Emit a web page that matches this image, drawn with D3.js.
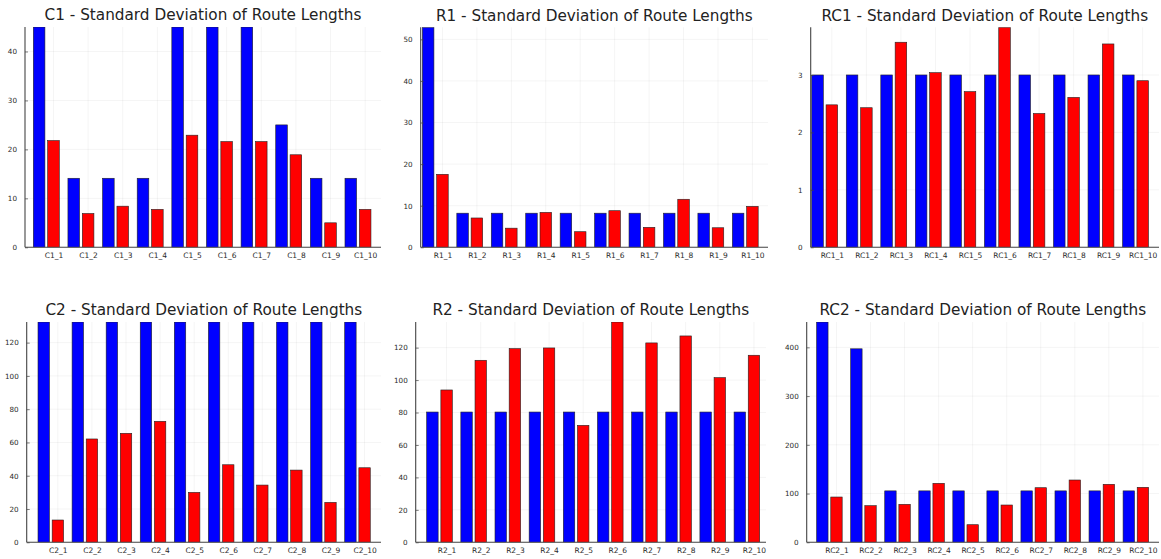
<!DOCTYPE html>
<html>
<head>
<meta charset="utf-8">
<script src="https://cdn.jsdelivr.net/npm/d3@7"></script>
<style>
  body { margin: 0; background: #fff; }
  svg { display: block; font-family: "DejaVu Sans", sans-serif; }
  .grid line { stroke: #000; stroke-opacity: 0.08; stroke-width: 0.6; }
  .axis path, .axis line { stroke: #444; }
  .axis text { fill: #2a2a2a; }
</style>
</head>
<body>
<div id="chart"></div>
<script>
// panel names (prefix of category labels)
var panelNames = ["C1", "R1", "RC1", "C2", "R2", "RC2"];

// blue series (bars cut at the top of each panel where they overflow)
var blueC1 = [45, 14.1, 14.1, 14.1, 45, 45, 45, 25, 14.1, 14.1];
var blueR1 = [52.9, 8.2, 8.2, 8.2, 8.2, 8.2, 8.2, 8.2, 8.2, 8.2];
var blueRC1 = [3, 3, 3, 3, 3, 3, 3, 3, 3, 3];
var blueC2 = [132.4, 132.4, 132.4, 132.4, 132.4, 132.4, 132.4, 132.4, 132.4, 132.4];
var blueR2 = [80.3, 80.3, 80.3, 80.3, 80.3, 80.3, 80.3, 80.3, 80.3, 80.3];
var blueRC2 = [452, 397, 105.5, 105.5, 105.5, 105.5, 105.5, 105.5, 105.5, 105.5];

// red series
var redC1 = [21.8, 6.9, 8.4, 7.75, 22.9, 21.6, 21.6, 18.9, 5.0, 7.75];
var redR1 = [17.55, 7.05, 4.6, 8.4, 3.75, 8.8, 4.8, 11.55, 4.7, 9.85];
var redRC1 = [2.48, 2.43, 3.57, 3.04, 2.71, 3.83, 2.33, 2.61, 3.54, 2.9];
var redC2 = [13.4, 62.1, 65.5, 72.7, 30.0, 46.6, 34.4, 43.4, 24.0, 44.8];
var redR2 = [93.9, 112.2, 119.4, 119.8, 72.1, 135.8, 122.9, 127.2, 101.5, 115.3];
var redRC2 = [92.9, 75.1, 77.9, 121, 36.1, 76.5, 112, 127.8, 119, 112.8];

// y axis top and tick step per panel
var yMax = [45, 52.9, 3.83, 132.4, 135.8, 452];
var yStep = [10, 10, 1, 20, 20, 100];

var blues = [blueC1, blueR1, blueRC1, blueC2, blueR2, blueRC2];
var reds = [redC1, redR1, redRC1, redC2, redR2, redRC2];

// layout of each plot area and the x range (group index units) it shows
var frames = [
  { l: 25, t: 27, r: 381, b: 247.3, x0: 0.385, x1: 10.665 },
  { l: 420.7, t: 27.3, r: 768, b: 247.3, x0: 0.576, x1: 10.66 },
  { l: 810.7, t: 27.3, r: 1159, b: 247.3, x0: 0.595, x1: 10.68 },
  { l: 26.7, t: 322, r: 381, b: 542.3, x0: 0.293, x1: 10.69 },
  { l: 415.7, t: 322, r: 766, b: 542.3, x0: 0.303, x1: 10.56 },
  { l: 806.7, t: 322, r: 1159, b: 542.3, x0: 0.333, x1: 10.68 }
];

var width = 1161, height = 559;

var svg = d3
  .select("#chart")
  .append("svg")
  .attr("width", width)
  .attr("height", height);

panelNames.forEach(function (name, p) {
  var f = frames[p];
  var cats = d3.range(1, 11).map(function (i) { return name + "_" + i; });
  var rows = cats.map(function (c, i) {
    return { cat: c, idx: i + 1, blue: blues[p][i], red: reds[p][i] };
  });

  var x = d3.scaleLinear().domain([f.x0, f.x1]).range([f.l, f.r]);
  var y = d3.scaleLinear().domain([0, yMax[p]]).range([f.b, f.t]);
  var yTicks = d3.range(0, yMax[p] + 1e-9, yStep[p]);
  var tickPos = function (d) { return x(d.idx + 0.2075); };

  var g = svg.append("g");

  g.append("clipPath")
    .attr("id", "clip" + p)
    .append("rect")
    .attr("x", f.l)
    .attr("y", f.t)
    .attr("width", f.r - f.l)
    .attr("height", f.b - f.t);

  // grid
  var grid = g.append("g").attr("class", "grid");
  grid.selectAll(".gy")
    .data(yTicks)
    .enter()
    .append("line")
    .attr("x1", f.l).attr("x2", f.r)
    .attr("y1", y).attr("y2", y);
  grid.selectAll(".gx")
    .data(rows)
    .enter()
    .append("line")
    .attr("x1", tickPos).attr("x2", tickPos)
    .attr("y1", f.t).attr("y2", f.b);

  // bars
  var bars = g.append("g").attr("clip-path", "url(#clip" + p + ")");
  bars.selectAll(".blue")
    .data(rows)
    .enter()
    .append("rect")
    .attr("x", function (d) { return x(d.idx - 0.375); })
    .attr("width", function (d) { return x(d.idx - 0.04) - x(d.idx - 0.375); })
    .attr("y", function (d) { return y(d.blue); })
    .attr("height", function (d) { return y(0) - y(d.blue); })
    .attr("fill", "#0000ff")
    .attr("stroke", "#222")
    .attr("stroke-width", 0.6);
  bars.selectAll(".red")
    .data(rows)
    .enter()
    .append("rect")
    .attr("x", function (d) { return x(d.idx + 0.04); })
    .attr("width", function (d) { return x(d.idx + 0.375) - x(d.idx + 0.04); })
    .attr("y", function (d) { return y(d.red); })
    .attr("height", function (d) { return y(0) - y(d.red); })
    .attr("fill", "#ff0000")
    .attr("stroke", "#222")
    .attr("stroke-width", 0.6);

  // y axis
  var ya = g.append("g")
    .attr("class", "axis")
    .attr("transform", "translate(" + f.l + ",0)")
    .call(d3.axisRight(y).tickValues(yTicks).tickSize(3).tickFormat(d3.format("d")))
    .attr("font-family", "DejaVu Sans");
  ya.select(".domain").attr("d", "M0," + f.t + "V" + f.b).attr("stroke-width", 1.1);
  ya.selectAll("text")
    .attr("x", -8)
    .attr("text-anchor", "end")
    .attr("font-size", "7.2px");
  ya.selectAll(".tick line").attr("stroke-width", 0.7);

  // x axis
  var xa = g.append("g")
    .attr("class", "axis")
    .attr("transform", "translate(0," + f.b + ")")
    .call(
      d3.axisBottom(x)
        .tickValues(rows.map(function (d) { return d.idx + 0.2075; }))
        .tickFormat(function (v, i) { return cats[i]; })
        .tickSize(0)
    )
    .attr("font-family", "DejaVu Sans");
  xa.select(".domain").attr("d", "M" + f.l + ",0H" + f.r).attr("stroke-width", 1.1);
  xa.selectAll("text")
    .attr("y", 5)
    .attr("font-size", "7.5px");

  // title
  g.append("text")
    .attr("x", (f.l + f.r) / 2)
    .attr("y", f.t - 6.6)
    .attr("text-anchor", "middle")
    .attr("font-size", "15.25px")
    .attr("fill", "#222")
    .text(name + " - Standard Deviation of Route Lengths");
});
</script>
</body>
</html>
